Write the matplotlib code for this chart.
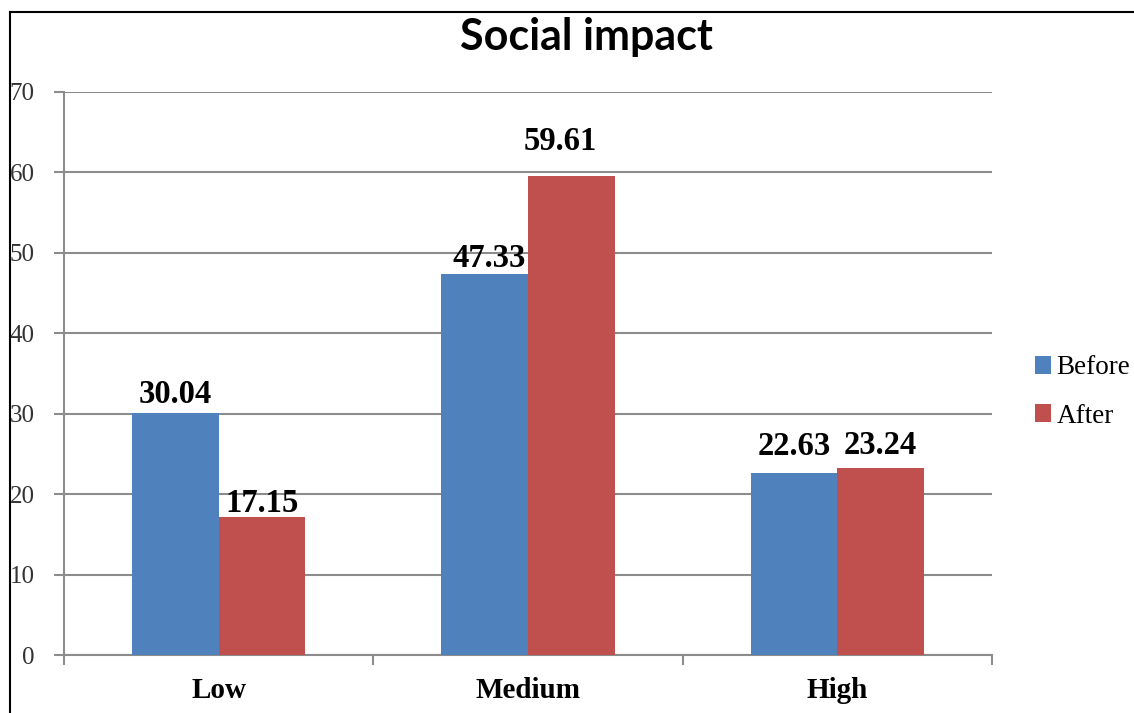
import matplotlib.pyplot as plt
from matplotlib.lines import Line2D
from matplotlib.patches import Patch
import numpy as np

# Chart data
categories = ["Low", "Medium", "High"]
series_names = ["Before", "After"]
before = [30.04, 47.33, 22.63]
after = [17.15, 59.61, 23.24]

# label nudges (pixels) so numbers sit where they read best
label_dx = [[0, 4, 0], [0, -11, 0]]
label_dy = [[10, 7, 18], [5, 26, 14]]

BLUE = "#4F81BD"
RED = "#C0504D"
GRID = "#8C8C8C"
SERIF = "Liberation Serif"

W, H = 1134, 713
fig = plt.figure(figsize=(W / 100, H / 100), dpi=100)
ax = fig.add_axes([64 / W, 1 - 655 / H, (992 - 64) / W, (655 - 92) / H])

x = np.arange(len(categories))
width = 0.28
bars = []
for i, (vals, col) in enumerate(zip([before, after], [BLUE, RED])):
    b = ax.bar(x + (i - 0.5) * width, vals, width, color=col, zorder=3,
               label=series_names[i])
    bars.append(b)
    for j, rect in enumerate(b):
        ax.annotate(f"{vals[j]:.2f}",
                    (rect.get_x() + rect.get_width() / 2, rect.get_height()),
                    xytext=(label_dx[i][j], label_dy[i][j]),
                    textcoords="offset pixels", ha="center", va="baseline",
                    fontsize=23.5, fontweight="bold", family=SERIF, zorder=4)

ax.set_xlim(-0.5, 2.5)
ax.set_ylim(0, 70)
ax.set_yticks(range(0, 71, 10))
ax.yaxis.grid(True, color=GRID, linewidth=1.5, zorder=0)
ax.set_axisbelow(True)

ax.set_xticks(x)
ax.set_xticklabels(categories, fontsize=21, fontweight="bold", family=SERIF)
ax.set_xticks([-0.5, 0.5, 1.5, 2.5], minor=True)
ax.tick_params(axis="x", which="major", length=0, pad=16)
ax.tick_params(axis="x", which="minor", length=7, width=1.5, color=GRID,
               direction="out")
ax.tick_params(axis="y", length=7, width=1.5, color=GRID, pad=14,
               labelsize=18, labelcolor="#333333")
for lab in ax.get_yticklabels():
    lab.set_family(SERIF)

for side in ["top", "right"]:
    ax.spines[side].set_visible(False)
for side in ["left", "bottom"]:
    ax.spines[side].set_color(GRID)
    ax.spines[side].set_linewidth(1.5)

fig.text(586 / W, 1 - 37 / H, "Social impact", ha="center", va="center",
         fontsize=31, fontweight="bold", family="Lato")

handles = [Patch(facecolor=BLUE), Patch(facecolor=RED)]
fig.legend(handles, series_names, loc="center left",
           bbox_to_anchor=(1035 / W, 1 - 392 / H), frameon=False,
           prop={"family": SERIF, "size": 19.5}, handlelength=0.6,
           handleheight=0.6, handletextpad=0.2, labelspacing=0.85,
           borderaxespad=0, borderpad=0)

# outer frame on the left and top edges
fig.add_artist(Line2D([10 / W, 10 / W], [0, 1 - 12 / H], color="black",
                      linewidth=1.5, transform=fig.transFigure))
fig.add_artist(Line2D([10 / W, 1], [1 - 12 / H, 1 - 12 / H], color="black",
                      linewidth=1.5, transform=fig.transFigure))

fig.savefig("out.png", dpi=100, facecolor="white")
